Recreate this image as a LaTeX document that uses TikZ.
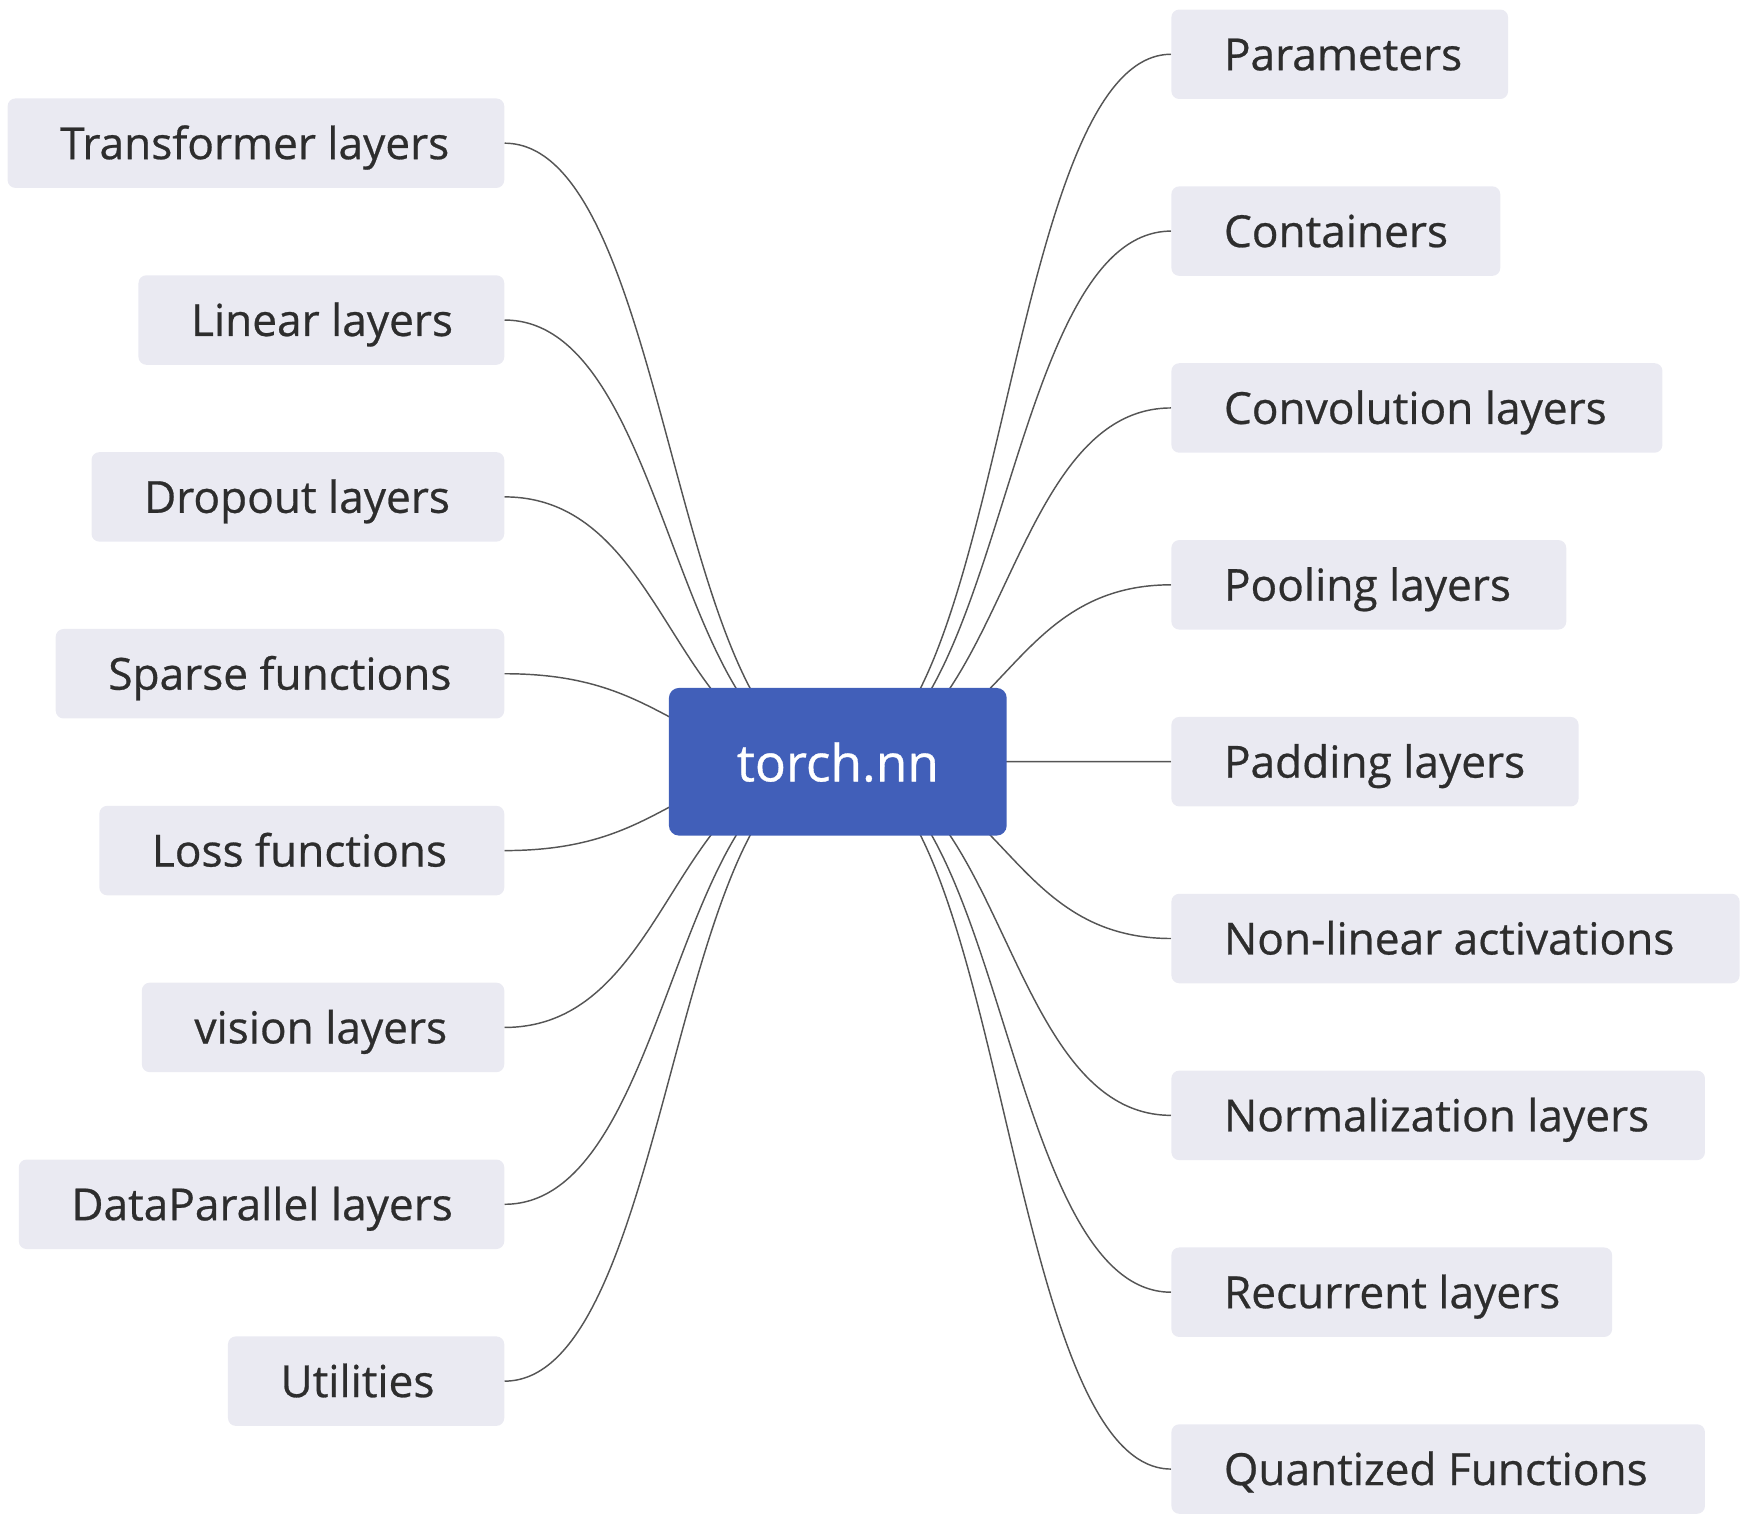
\documentclass[tikz,border=0pt]{standalone}
\usepackage{fontspec}
\setmainfont{Open Sans}
\newfontfamily\leafFont[FakeBold=0.6]{Open Sans}
\usetikzlibrary{backgrounds}
\definecolor{rootBlue}{RGB}{65,95,185}
\definecolor{leafGray}{RGB}{234,234,242}
\definecolor{linkGray}{RGB}{85,85,85}
\definecolor{textDark}{RGB}{45,45,45}

\begin{document}
\begin{tikzpicture}[%
  x=1pt,y=-1pt,%
  rootStyle/.style={fill=rootBlue,text=white,rounded corners=9pt,%
    minimum width=302pt,minimum height=132pt,inner sep=0pt,%
    font=\leafFont\fontsize{46}{54}\selectfont,text height=35pt,text depth=0pt},%
  leafStyle/.style={fill=leafGray,text=textDark,rounded corners=7pt,%
    minimum height=80pt,inner xsep=47pt,inner ysep=0pt,%
    font=\leafFont\fontsize{39.5}{47}\selectfont,text height=28.5pt,text depth=0pt},%
  linkStyle/.style={-,draw=linkGray,line width=1.3pt}%
]
%
%
\pgfmathsetmacro{\xLeft}{451}    % Right edge of the left column.
\pgfmathsetmacro{\xRight}{1047}  % Left edge of the right column.
\pgfmathsetmacro{\gap}{158.1}    % Vertical distance between two leaves.
\pgfmathsetmacro{\bend}{149}     % Half of the horizontal run of a link.
\useasboundingbox (0,0) rectangle (1560,1358);
%
%
% The root of the map.
\node[rootStyle] (root) at (749,681) {torch.nn};
%
%
% Left column, each leaf linked to the root.
\foreach \lbl/\boxW [count=\i from 0] in {Transformer layers/444,Linear layers/327,%
    Dropout layers/369,Sparse functions/401,Loss functions/362,vision layers/324,%
    DataParallel layers/434,Utilities/247}{%
  \pgfmathsetmacro{\yy}{128+\gap*\i}
  \pgfmathsetmacro{\tw}{\boxW-94}
  \node[leafStyle,anchor=east] (left\i) at (\xLeft,\yy) {\makebox[\tw pt][l]{\lbl}};
  \begin{pgfonlayer}{background}
    \draw[linkStyle] (left\i.east) to[out=0,in=180,out distance=\bend pt,in distance=\bend pt] (root.center);
  \end{pgfonlayer}
}
%
%
% Right column, each leaf linked from the root.
\foreach \lbl/\boxW [count=\i from 0] in {Parameters/301,Containers/294,%
    Convolution layers/439,Pooling layers/353,Padding layers/364,%
    Non-linear activations/508,Normalization layers/477,Recurrent layers/394,%
    Quantized Functions/477}{%
  \pgfmathsetmacro{\yy}{48.5+\gap*\i}
  \pgfmathsetmacro{\tw}{\boxW-94}
  \node[leafStyle,anchor=west] (right\i) at (\xRight,\yy) {\makebox[\tw pt][l]{\lbl}};
  \begin{pgfonlayer}{background}
    \draw[linkStyle] (root.center) to[out=0,in=180,out distance=\bend pt,in distance=\bend pt] (right\i.west);
  \end{pgfonlayer}
}
\end{tikzpicture}
\end{document}
